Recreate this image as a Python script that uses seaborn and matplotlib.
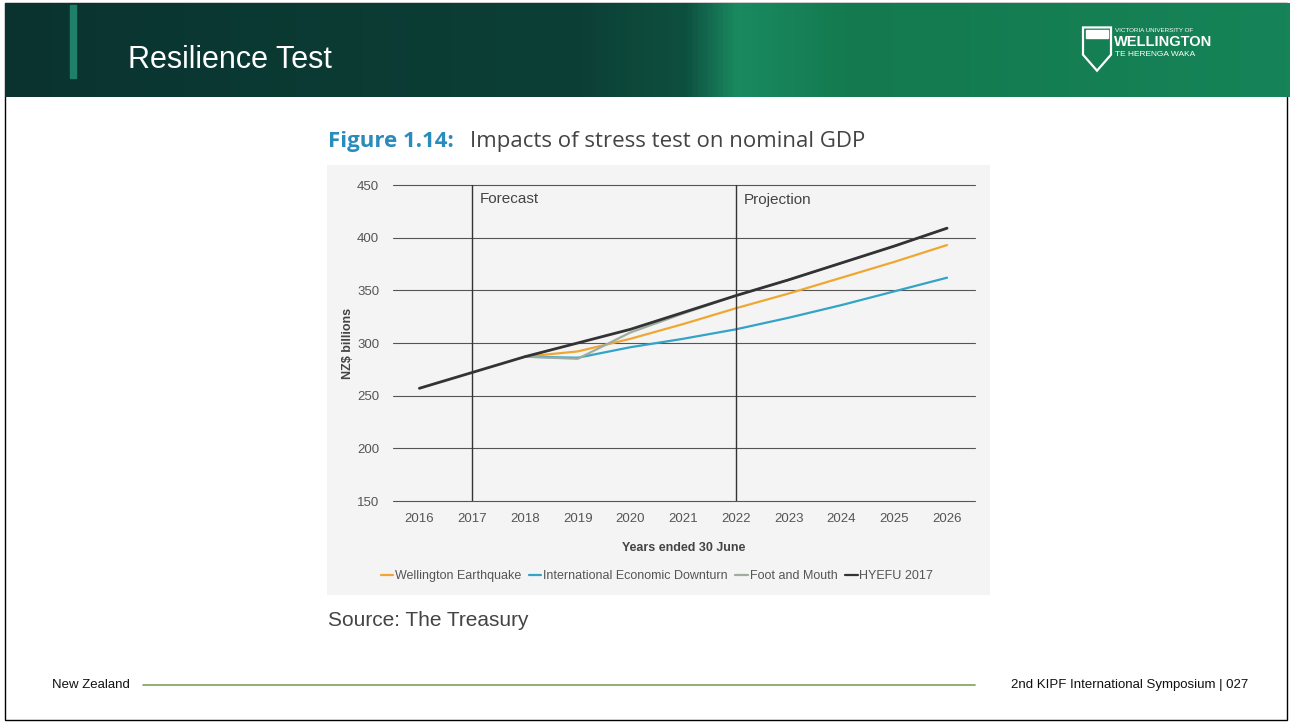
import numpy as np
import pandas as pd
import matplotlib.pyplot as plt
import seaborn as sns
from matplotlib.patches import Rectangle, Polygon
from matplotlib.colors import LinearSegmentedColormap
from matplotlib.lines import Line2D

# Datos
years = [2016, 2017, 2018, 2019, 2020, 2021, 2022, 2023, 2024, 2025, 2026]
hyefu = [257, 272, 287, 300, 313, 329, 345, 360, 376, 392, 409]
scen_years = [2018, 2019, 2020, 2021, 2022, 2023, 2024, 2025, 2026]
wellington = [287, 292, 304, 318, 333, 347, 362, 377, 393]
downturn = [287, 286, 296, 304, 313, 324, 336, 349, 362]
foot_mouth = [287, 285, 310, 328, 345, 360, 376, 392, 409]

series = ["Wellington Earthquake", "International Economic Downturn",
          "Foot and Mouth", "HYEFU 2017"]
colores = ["#f0a732", "#33a3c6", "#9fac9f", "#333333"]

df = pd.concat([
    pd.DataFrame({"Año": scen_years, "Valor": wellington, "Serie": series[0]}),
    pd.DataFrame({"Año": scen_years, "Valor": downturn, "Serie": series[1]}),
    pd.DataFrame({"Año": scen_years, "Valor": foot_mouth, "Serie": series[2]}),
    pd.DataFrame({"Año": years, "Valor": hyefu, "Serie": series[3]}),
])

sns.set_style("white")
plt.rcParams["font.family"] = ["Liberation Sans", "DejaVu Sans"]

fig = plt.figure(figsize=(12.9, 7.22), dpi=100)
W, H = 1290, 722

def fx(x):
    return x / W

def fy(y):
    return 1 - y / H

# Encabezado verde con degradado
hdr = fig.add_axes([fx(5), fy(97), fx(1285), (97 - 3) / H])
cmap = LinearSegmentedColormap.from_list(
    "hdr", [(0, "#0a3330"), (0.45, "#0c4036"), (0.53, "#0e5040"),
            (0.57, "#1a8a60"), (0.66, "#14794f"), (1, "#168458")])
grad = np.linspace(0, 1, 512).reshape(1, -1)
hdr.imshow(grad, aspect="auto", cmap=cmap, extent=[0, 1, 0, 1])
hdr.set_xlim(0, 1)
hdr.set_ylim(0, 1)
hdr.axis("off")
hdr.add_patch(Rectangle((65 / 1285, 0.2), 6 / 1285, 0.78, color="#1f7f6a"))
# escudo del logo
hdr.add_patch(Polygon([(1078 / 1285, 0.74), (1106 / 1285, 0.74), (1106 / 1285, 0.45),
                       (1092 / 1285, 0.28), (1078 / 1285, 0.45)],
                      facecolor="none", edgecolor="white", lw=1.6))
hdr.add_patch(Rectangle((1081 / 1285, 0.63), 22 / 1285, 0.08, color="white"))

fig.text(fx(128), fy(60), "Resilience Test", color="white", fontsize=22,
         va="center")
fig.text(fx(1115), fy(30), "VICTORIA UNIVERSITY OF", color="white", fontsize=4.5,
         va="center")
fig.text(fx(1114), fy(42), "WELLINGTON", color="white", fontsize=10.5,
         fontweight="bold", va="center")
fig.text(fx(1115), fy(55), "TE HERENGA WAKA", color="white", fontsize=6,
         va="center")

# Marco de la diapositiva
fig.patches.append(Rectangle((fx(5), fy(720)), fx(1282), 717 / H, transform=fig.transFigure,
                             facecolor="none", edgecolor="black", lw=1, zorder=-2))

# Título de la figura
fig.text(fx(328), fy(142), "Figure 1.14:", color="#2a8cbc", fontsize=16,
         fontweight="bold", family="Open Sans", va="center")
fig.text(fx(470), fy(142), "Impacts of stress test on nominal GDP", color="#444444",
         fontsize=16, family="Open Sans", va="center")

# Fondo gris del gráfico
fig.patches.append(Rectangle((fx(327), fy(595)), fx(663), 430 / H, transform=fig.transFigure,
                             facecolor="#f4f4f4", edgecolor="none", zorder=-1))

ax = fig.add_axes([fx(393), fy(501), fx(582), 316 / H])
ax.set_facecolor("none")
sns.lineplot(data=df, x="Año", y="Valor", hue="Serie", hue_order=series,
             palette=colores, linewidth=1.6, ax=ax, legend=False, sort=True)
for ln, s in zip(ax.lines, series):
    if s == "HYEFU 2017":
        ln.set_zorder(5)
        ln.set_linewidth(2)

ax.set_xlim(2015.5, 2026.53)
ax.set_ylim(150, 450)
ax.set_yticks(range(150, 451, 50))
ax.set_xticks(years)
ax.grid(axis="y", color="#555555", linewidth=0.8)
ax.grid(axis="x", visible=False)
for gl in ax.get_ygridlines():
    gl.set_clip_on(False)
for sp in ax.spines.values():
    sp.set_visible(False)
ax.tick_params(axis="both", length=0, labelsize=9.5, colors="#555555")
ax.tick_params(axis="x", pad=9)
ax.tick_params(axis="y", pad=10)
ax.axvline(2017, color="#333333", linewidth=1)
ax.axvline(2022, color="#333333", linewidth=1)
ax.text(2017.15, 443, "Forecast", fontsize=11, color="#444444", va="top")
ax.text(2022.15, 442, "Projection", fontsize=11, color="#444444", va="top")
ax.set_xlabel("Years ended 30 June", fontsize=9, fontweight="bold", color="#444444",
              labelpad=12)
ax.set_ylabel("NZ$ billions", fontsize=9, fontweight="bold", color="#444444",
              labelpad=2)

handles = [Line2D([0], [0], color=c, lw=1.6) for c in colores]
fig.legend(handles, series, loc="center", bbox_to_anchor=(fx(657), fy(576)), ncol=4,
           frameon=False, fontsize=9, handlelength=1.0, handletextpad=0.15,
           columnspacing=0.6, labelcolor="#555555")

fig.text(fx(328), fy(620), "Source: The Treasury", fontsize=15, color="#444444",
         va="center")

# Pie de página
fig.text(fx(52), fy(685), "New Zealand", fontsize=9.5, color="#111111", va="center")
fig.lines.append(Line2D([fx(143), fx(975)], [fy(685), fy(685)], transform=fig.transFigure,
                        color="#7aa35a", lw=1.2))
fig.text(fx(1248), fy(685), "2nd KIPF International Symposium | 027", fontsize=9.5,
         color="#111111", va="center", ha="right")

plt.savefig("out.png", dpi=100)
